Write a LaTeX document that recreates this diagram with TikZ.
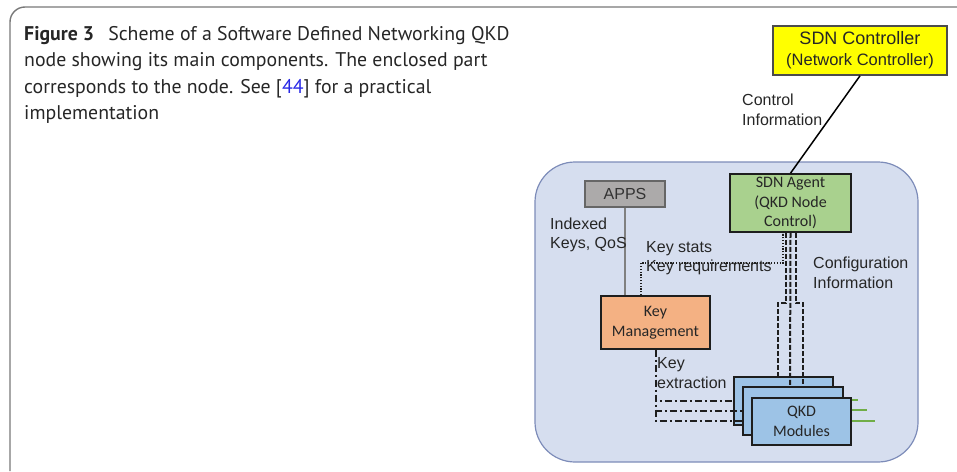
\documentclass[tikz,border=0pt]{standalone}
\usepackage{fontspec}
\setmainfont{PT Sans}
\newfontfamily\arialf{Liberation Sans}
\newfontfamily\calf{Carlito}
\definecolor{framegray}{RGB}{120,120,120}
\definecolor{bigfill}{RGB}{214,222,239}
\definecolor{bigdraw}{RGB}{125,140,185}
\definecolor{ctrlfill}{RGB}{255,255,0}
\definecolor{appsfill}{RGB}{172,170,170}
\definecolor{agentfill}{RGB}{169,209,142}
\definecolor{kmfill}{RGB}{244,177,131}
\definecolor{modfill}{RGB}{157,195,230}
\definecolor{linkgreen}{RGB}{112,173,71}
\definecolor{refblue}{RGB}{40,40,230}
\definecolor{darkline}{RGB}{30,30,30}
\begin{document}
\begin{tikzpicture}[x=1pt,y=-1pt,
  capline/.style={anchor=base west,inner sep=0pt,font=\fontsize{19.8}{22}\selectfont,text=black!85},
  box/.style={draw=darkline,line width=1.6pt,inner sep=0pt,align=center},
  lbl/.style={anchor=west,inner sep=0pt,align=left,font=\arialf\fontsize{16}{19.5}\selectfont,text=black!85},
  calibri/.style={font=\calf\fontsize{16}{19.5}\selectfont,text=black!85},
  cfgline/.style={line width=2pt,dash pattern=on 5pt off 2pt,darkline},
  dotline/.style={line width=1.4pt,dash pattern=on 1.2pt off 1.6pt,darkline},
  extline/.style={line width=1.9pt,dash pattern=on 7pt off 3pt on 2pt off 3pt,darkline},
  green/.style={linkgreen,line width=1.6pt}]
\useasboundingbox (0,0) rectangle (957,471);
% outer frame
\draw[framegray,line width=1.4pt,rounded corners=15pt] (10,471) -- (10,7) -- (980,7);
% caption
\node[capline] (cap1) at (24,40) {\textbf{Figure 3}\hspace{0.45em} Scheme of a Software Defined Networking QKD};
\node[capline] (cap2) at (24,66) {node showing its main components. The enclosed part};
\node[capline] (cap3) at (24,93) {corresponds to the node. See [\textcolor{refblue}{44}] for a practical};
\node[capline] (cap4) at (24,119) {implementation};
% enclosing node area
\draw[bigdraw,fill=bigfill,line width=1.2pt,rounded corners=40pt] (535,162) rectangle (918,462);
% boxes
\node[box,fill=ctrlfill,draw=black!70,minimum width=174pt,minimum height=49pt,font=\arialf\fontsize{18}{21}\selectfont,text=black!85] (ctrl) at (860,50.5)
  {SDN Controller\\{\fontsize{16.5}{21}\selectfont (Network Controller)}};
\node[box,fill=agentfill,minimum width=121pt,minimum height=58pt,calibri] (agent) at (790.5,203)
  {SDN Agent\\(QKD Node\\Control)};
\node[box,fill=appsfill,draw=black!60,minimum width=80pt,minimum height=26pt,font=\arialf\fontsize{16}{19}\selectfont,text=black!80] (apps) at (625,194) {APPS};
\node[box,fill=kmfill,minimum width=109pt,minimum height=53pt,calibri] (km) at (655.5,322.5) {Key\\Management};
% connectors
\draw[black,line width=1.5pt] (ctrl.south) -- (agent.north);
\node[lbl] (ctrllbl) at (742,110) {Control\\Information};
\draw[gray,line width=1.2pt] (apps.south) -- (apps.south |- km.north);
\node[lbl] (idxlbl) at (550,235) {Indexed\\Keys, QoS};
\coordinate (kmdot) at ([xshift=-14.5pt]km.north);
\coordinate (agdot) at ([xshift=-7.5pt]agent.south);
\draw[dotline] (kmdot) -- (kmdot |- 0,263) -- (agdot |- 0,263) -- (agdot);
\node[lbl] (statlbl) at (646,258) {Key stats\\Key requirements};
\node[lbl] (cfglbl) at (813,273) {Configuration\\Information};
% QKD modules (back to front) with green links
\draw[green] (833,400) -- (858,400);
\node[box,fill=modfill,minimum width=99pt,minimum height=48pt] (mod1) at (783.5,401) {};
\draw[green] (843,410) -- (867,410);
\node[box,fill=modfill,minimum width=100pt,minimum height=48pt] (mod2) at (793,411) {};
\draw[green] (851,421) -- (875,421);
% configuration links
\coordinate (agA) at ([xshift=-5pt]agent.south);
\coordinate (agB) at (agent.south);
\coordinate (agC) at ([xshift=5pt]agent.south);
\draw[cfgline] (agA) -- (agA |- 0,303) -- (778,303) -- (mod1.north -| 778,0);
\draw[cfgline] (agC) -- (agC |- 0,303) -- (803,303) -- (803,398);
% key extraction links
\coordinate (kmx) at ([xshift=0.5pt]km.south);
\draw[extline] (kmx) -- (kmx |- 0,401) -- (mod1.west |- 0,401);
\draw[extline] (kmx) -- (kmx |- 0,411) -- (mod2.west |- 0,411);
\draw[extline] (kmx) -- (kmx |- 0,421) -- (752,421);
\node[lbl] (extlbl) at (657,373) {Key\\extraction};
% redraw middle module over lines
\node[box,fill=modfill,minimum width=100pt,minimum height=48pt] (mod2b) at (793,411) {};
\draw[cfgline] (agB) -- (790,387);
\node[box,fill=modfill,minimum width=99pt,minimum height=47pt,calibri] (mod3) at (801.5,421.5) {QKD\\Modules};
\end{tikzpicture}
\end{document}
